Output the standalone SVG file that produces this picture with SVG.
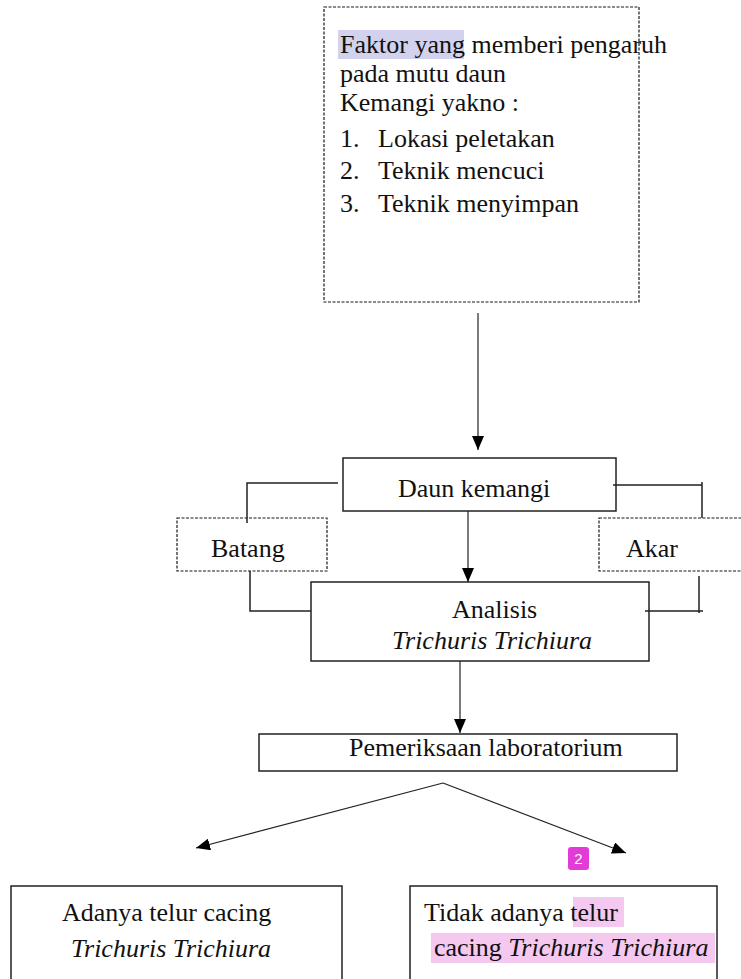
<svg xmlns="http://www.w3.org/2000/svg" width="741" height="979" viewBox="0 0 741 979">
<style>
.t{font-family:"Liberation Serif","Times New Roman",serif;font-size:26px;fill:#111}
.i{font-style:italic}
.box{fill:#fff;stroke:#222;stroke-width:1.5}
.dash{fill:#fff;stroke:#1a1a1a;stroke-width:1.2;stroke-dasharray:3 1.5}
.ln{fill:none;stroke:#222;stroke-width:1.5}
.arr{fill:none;stroke:#222;stroke-width:1.2;marker-end:url(#ah)}
</style>
<defs>
<marker id="ah" viewBox="0 0 14 12" refX="14" refY="6" markerWidth="14" markerHeight="12" markerUnits="userSpaceOnUse" orient="auto">
<path d="M0,0 L14,6 L0,12 z" fill="#000"/>
</marker>
</defs>
<rect width="741" height="979" fill="#fff"/>
<g id="faktor">
<rect class="dash" x="324" y="7" width="315" height="295"/>
<rect x="338" y="30" width="126" height="29" fill="#d2d2ee"/>
<text class="t" x="340" y="53">Faktor yang memberi pengaruh</text>
<text class="t" x="340" y="82">pada mutu daun</text>
<text class="t" x="340" y="111">Kemangi yakno :</text>
<text class="t" x="340" y="147">1.</text><text class="t" x="378" y="147">Lokasi peletakan</text>
<text class="t" x="340" y="179">2.</text><text class="t" x="378" y="179">Teknik mencuci</text>
<text class="t" x="340" y="212">3.</text><text class="t" x="378" y="212">Teknik menyimpan</text>
</g>
<g id="daun">
<rect class="box" x="343" y="458" width="273" height="53"/>
<text class="t" x="398" y="497">Daun kemangi</text>
</g>
<g id="batang">
<rect class="dash" x="177" y="518" width="150" height="53"/>
<text class="t" x="211" y="557">Batang</text>
</g>
<g id="akar">
<rect class="dash" x="599" y="518" width="150" height="53"/>
<text class="t" x="626" y="557">Akar</text>
</g>
<g id="analisis">
<rect class="box" x="311" y="582" width="338" height="79"/>
<text class="t" x="452" y="618">Analisis</text>
<text class="t i" x="392" y="649">Trichuris Trichiura</text>
</g>
<g id="pemeriksaan">
<rect class="box" x="259" y="734" width="418" height="37"/>
<text class="t" x="349" y="756">Pemeriksaan laboratorium</text>
</g>
<g id="adanya">
<rect class="box" x="11" y="886" width="331" height="100"/>
<text class="t" x="62" y="921">Adanya telur cacing</text>
<text class="t i" x="71" y="957">Trichuris Trichiura</text>
</g>
<g id="tidak">
<rect class="box" x="410" y="886" width="307" height="100"/>
<rect x="573" y="897" width="51" height="30" fill="#f5c8f0"/>
<rect x="431" y="933" width="284" height="30" fill="#f5c8f0"/>
<text class="t" x="424" y="921">Tidak adanya telur</text>
<text class="t" x="434" y="956">cacing <tspan class="i">Trichuris Trichiura</tspan></text>
<rect x="568" y="847" width="21" height="23" rx="3" fill="#e23bd8"/>
<text x="578.5" y="864" text-anchor="middle" style="font-family:'Liberation Sans',Arial,sans-serif;font-size:15px;fill:#fff">2</text>
</g>
<g id="connectors">
<path class="arr" d="M478,313 V450"/>
<path class="ln" d="M338,483 H247 V523"/>
<path class="ln" d="M613,485 H702 M702,482 V518"/>
<path class="ln" d="M250,571 V611 H311"/>
<path class="ln" d="M699,576 V613 M645,611 H703"/>
<path class="arr" d="M468,511 V582"/>
<path class="arr" d="M460,661 V733"/>
<path class="arr" d="M443,783 L196,848"/>
<path class="arr" d="M443,783 L626,853"/>
</g>
</svg>
